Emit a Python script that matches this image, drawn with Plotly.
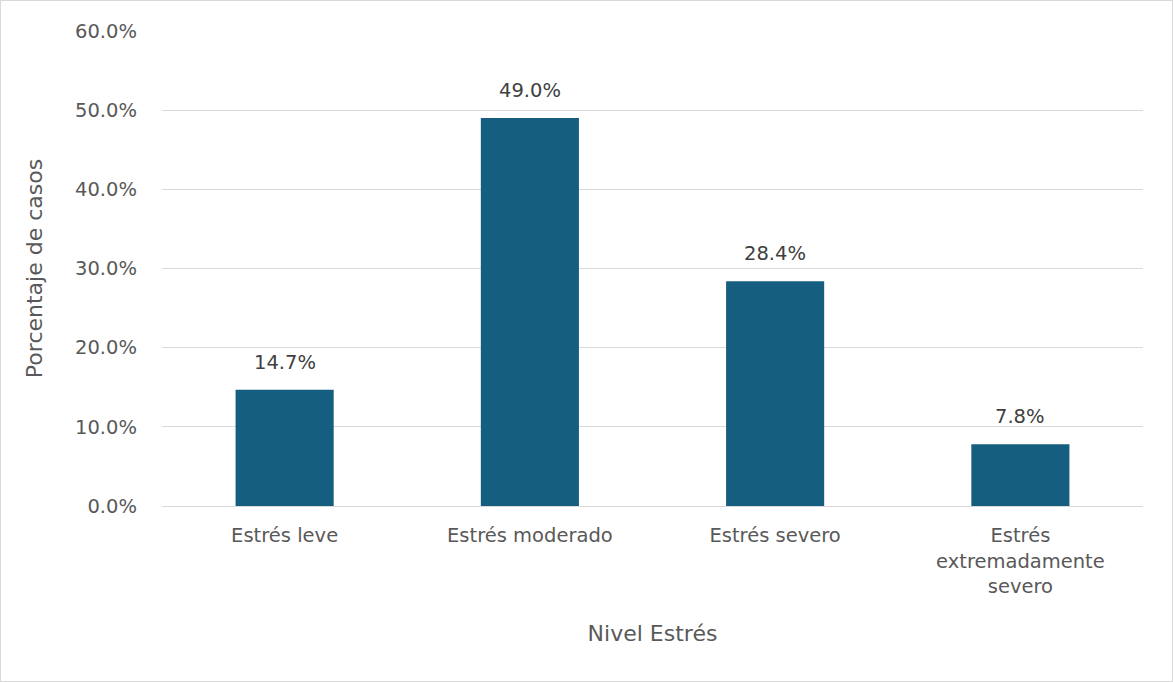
import plotly.graph_objects as go

categories = ["Estrés leve", "Estrés moderado", "Estrés severo", "Estrés<br>extremadamente<br>severo"]
values = [14.7, 49.0, 28.4, 7.8]
tick_vals = [0, 10, 20, 30, 40, 50, 60]
tick_text = ["0.0%", "10.0%", "20.0%", "30.0%", "40.0%", "50.0%", "60.0%"]
labels = [f"{v:.1f}%" for v in values]

FONT = "DejaVu Sans"
W, H = 1173, 682
L, R, T, B = 162, 30, 31, 176

fig = go.Figure(go.Bar(
    x=categories, y=values,
    marker=dict(color="#165E80", line=dict(width=0)),
    width=0.4,
))

for c, v, t in zip(categories, values, labels):
    fig.add_annotation(x=c, y=v, text=t, showarrow=False, yanchor="bottom",
                       yshift=14, font=dict(family=FONT, size=19.5, color="#404040"))

fig.update_layout(
    width=W, height=H,
    margin=dict(l=L, r=R, t=T, b=B),
    plot_bgcolor="white", paper_bgcolor="white",
    showlegend=False,
    font=dict(family=FONT, size=19.5, color="#595959"),
    xaxis=dict(
        showgrid=False, showline=True, linecolor="#d9d9d9", linewidth=1,
        tickfont=dict(family=FONT, size=19.5, color="#595959"),
        ticks="", ticklabelstandoff=12,
        title=dict(text="Nivel Estrés", font=dict(family=FONT, size=22, color="#595959"), standoff=28),
    ),
    yaxis=dict(
        range=[0, 60], tickvals=tick_vals, ticktext=tick_text,
        showgrid=True, gridcolor="#d9d9d9", gridwidth=1,
        zeroline=False, showline=False, ticks="",
        ticklabelstandoff=24,
        tickfont=dict(family=FONT, size=19.5, color="#595959"),
        title=dict(text="Porcentaje de casos", font=dict(family=FONT, size=22, color="#595959"), standoff=26),
    ),
)
pw, ph = W - L - R, H - T - B
fig.add_shape(type="rect", xref="paper", yref="paper",
              x0=-L / pw, x1=1 + R / pw, y0=-B / ph, y1=1 + T / ph,
              line=dict(color="#d9d9d9", width=2), layer="below")

fig.write_html("out.html", config={"displayModeBar": False},
               post_script="document.body.style.margin='0';")
